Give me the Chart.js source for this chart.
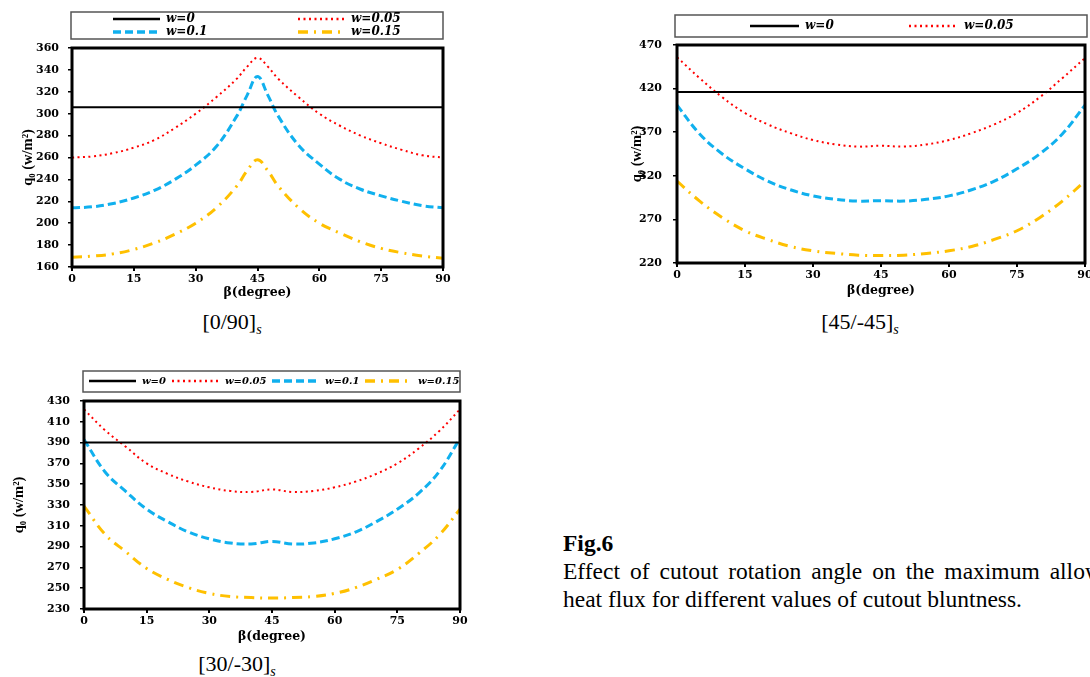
<!DOCTYPE html>
<html>
<head>
<meta charset="utf-8">
<script src="https://cdn.jsdelivr.net/npm/chart.js@4.4.1/dist/chart.umd.min.js"></script>
<style>
  html, body { margin: 0; padding: 0; background: #fff; width: 1090px; height: 677px; overflow: hidden; }
  body { position: relative; }
  canvas.plot { position: absolute; }
  .cap { position: absolute; font-family: 'Liberation Serif', serif; font-size: 22px; line-height: 24px; white-space: nowrap; transform: translateX(-50%); color: #000; }
  .cap sub { font-size: 14px; font-style: italic; vertical-align: -5px; }
  #fig { position: absolute; left: 563px; top: 529px; font-family: 'Liberation Serif', serif; font-size: 23.5px; line-height: 28px; color: #000; white-space: nowrap; }
</style>
</head>
<body>
<canvas id="c090" class="plot" width="460" height="305" style="left:0;top:0"></canvas>
<canvas id="c4545" class="plot" width="500" height="305" style="left:600px;top:0"></canvas>
<canvas id="c3030" class="plot" width="480" height="290" style="left:0;top:360px"></canvas>

<div class="cap" style="left:232px;top:310px">[0/90]<sub>s</sub></div>
<div class="cap" style="left:860px;top:310px">[45/-45]<sub>s</sub></div>
<div class="cap" style="left:237px;top:652px">[30/-30]<sub>s</sub></div>

<div id="fig">
  <div style="font-weight:bold">Fig.6</div>
  <div style="width:578px;text-align:justify;text-align-last:justify;white-space:normal">Effect of cutout rotation angle on the maximum allowable</div>
  <div>heat flux for different values of cutout bluntness.</div>
</div>

<script>
// legend labels (cutout bluntness)
const seriesLabels = ['w=0', 'w=0.05', 'w=0.1', 'w=0.15'];
const xTicksDeg = [0, 15, 30, 45, 60, 75, 90];

// [0/90]s
const betaA = [0, 5, 10, 15, 20, 25, 30, 35, 40, 42.5, 45, 47.5, 50, 55, 60, 65, 70, 75, 80, 85, 90];
const q090_w0   = [306, 306, 306, 306, 306, 306, 306, 306, 306, 306, 306, 306, 306, 306, 306, 306, 306, 306, 306, 306, 306];
const q090_w005 = [260, 261, 264, 269, 276, 287, 300, 315, 332, 343, 351, 343, 332, 315, 300, 289, 280, 273, 267, 262, 260];
const q090_w01  = [214, 215, 218, 223, 230, 240, 253, 270, 298, 317, 334, 317, 298, 271, 254, 240, 231, 225, 220, 216, 214];
const q090_w015 = [169, 170, 172, 176, 182, 190, 200, 214, 234, 248, 258, 248, 234, 214, 200, 191, 183, 177, 173, 170, 168];

// [45/-45]s and [30/-30]s
const betaB = [0, 5, 10, 15, 20, 25, 30, 35, 40, 45, 50, 55, 60, 65, 70, 75, 80, 85, 90];
const q4545_w0   = [416, 416, 416, 416, 416, 416, 416, 416, 416, 416, 416, 416, 416, 416, 416, 416, 416, 416, 416];
const q4545_w005 = [456, 432, 410, 392, 379, 369, 361, 356, 353.5, 354.5, 353.5, 356, 361, 369, 379, 392, 410, 432, 455];
const q4545_w01  = [401, 368, 345, 328, 314, 304, 297, 293, 291, 291.5, 291, 293, 297, 304, 314, 328, 345, 368, 401];
const q4545_w015 = [314, 291, 272, 257, 247, 239, 234, 231, 229, 228.5, 229, 231, 234, 239, 247, 257, 272, 291, 314];

const q3030_w0   = [390, 390, 390, 390, 390, 390, 390, 390, 390, 390, 390, 390, 390, 390, 390, 390, 390, 390, 390];
const q3030_w005 = [422, 402, 386, 370, 360, 352.5, 347, 343.5, 342.5, 345, 342.5, 343.5, 347, 352.5, 360, 370, 384, 401, 422];
const q3030_w01  = [393, 362, 343, 326, 314, 304, 297.5, 293.5, 292.5, 295, 292.5, 293.5, 297.5, 304, 314, 326, 341, 362, 394];
const q3030_w015 = [329, 302, 285, 269, 258.5, 250.5, 245, 242, 241, 240.5, 241, 242, 245, 250.5, 258.5, 268, 283, 301, 326];

const lineStyles = [
    { borderColor: '#000000', borderWidth: 2, borderDash: [] },
    { borderColor: '#FF0000', borderWidth: 2, borderDash: [2, 3.5] },
    { borderColor: '#10B0EE', borderWidth: 3, borderDash: [8, 4] },
    { borderColor: '#FFC000', borderWidth: 3, borderDash: [10, 6, 2, 6] }
];

const serifBold = { family: 'DejaVu Serif', weight: 'bold', size: 11 };

// thick black box round the plot area
const frame = {
    id: 'frame',
    afterDatasetsDraw(chart) {
        const a = chart.chartArea, ctx = chart.ctx;
        ctx.save();
        ctx.strokeStyle = '#000';
        ctx.lineWidth = 3;
        ctx.strokeRect(a.left, a.top, a.right - a.left, a.bottom - a.top);
        ctx.restore();
    }
};

// legend inside a grey box above the plot, styles taken from the datasets
const boxLegend = {
    id: 'boxLegend',
    afterDraw(chart, args, o) {
        const a = chart.chartArea, ctx = chart.ctx;
        ctx.save();
        ctx.strokeStyle = '#555';
        ctx.lineWidth = 1.5;
        ctx.strokeRect(a.left + o.inset[0], o.top, a.right - a.left - o.inset[0] + o.inset[1], o.bottom - o.top);
        ctx.font = 'italic bold ' + o.fontSize + 'px "DejaVu Serif"';
        ctx.textBaseline = 'middle';
        ctx.fillStyle = '#000';
        o.items.forEach(it => {
            const ds = chart.data.datasets[it.ds];
            const x = a.left + it.x, y = o.rows[it.row];
            ctx.save();
            ctx.strokeStyle = ds.borderColor;
            ctx.lineWidth = ds.borderWidth + 0.5;
            ctx.setLineDash(ds.borderDash);
            ctx.beginPath();
            ctx.moveTo(x, y);
            ctx.lineTo(x + o.lineLen, y);
            ctx.stroke();
            ctx.restore();
            ctx.fillText(ds.label, x + o.lineLen + 6, y);
        });
        ctx.restore();
    }
};

function makeChart(id, beta, series, y, geo, legend) {
    const datasets = series.map((vals, i) => Object.assign({
        label: seriesLabels[i],
        data: beta.map((b, k) => ({ x: b, y: vals[k] })),
        pointRadius: 0,
        fill: false,
        tension: 0.4
    }, lineStyles[i]));

    return new Chart(document.getElementById(id), {
        type: 'line',
        data: { datasets: datasets },
        options: {
            responsive: false,
            animation: false,
            devicePixelRatio: 1,
            layout: { padding: { top: geo.top, right: geo.right, bottom: geo.bottom, left: 0 } },
            plugins: {
                legend: { display: false },
                tooltip: { enabled: false },
                boxLegend: legend
            },
            scales: {
                x: {
                    type: 'linear',
                    min: 0,
                    max: 90,
                    afterFit: s => { s.height = geo.xH; },
                    afterBuildTicks: s => { s.ticks = xTicksDeg.map(v => ({ value: v })); },
                    border: { display: false },
                    grid: { drawOnChartArea: false, drawTicks: true, tickLength: 4, color: '#000', lineWidth: 2 },
                    ticks: { color: '#000', font: serifBold, padding: 2, maxRotation: 0 },
                    title: { display: true, text: 'β(degree)', color: '#000', font: { family: 'DejaVu Serif', weight: 'bold', size: 12.5 }, padding: { top: 0, bottom: 0 } }
                },
                y: {
                    min: y.min,
                    max: y.max,
                    afterFit: s => { s.width = geo.yW; },
                    border: { display: false },
                    grid: { drawOnChartArea: false, drawTicks: true, tickLength: 4, color: '#000', lineWidth: 1.5 },
                    ticks: { stepSize: y.step, color: '#000', font: serifBold, padding: geo.yTickPad },
                    title: { display: true, text: 'q₀ (w/m²)', color: '#000', font: { family: 'Liberation Serif', weight: 'bold', size: 14.5 }, padding: { top: geo.yTitlePad, bottom: 0 } }
                }
            }
        },
        plugins: [frame, boxLegend]
    });
}

makeChart('c090', betaA, [q090_w0, q090_w005, q090_w01, q090_w015],
    { min: 160, max: 360, step: 20 },
    { top: 48, right: 17, bottom: 5, xH: 33, yW: 72, yTickPad: 9, yTitlePad: 20 },
    { top: 12, bottom: 39, inset: [-1, 0], rows: [19, 32], lineLen: 47, fontSize: 12,
      items: [{ ds: 0, x: 41, row: 0 }, { ds: 1, x: 226, row: 0 }, { ds: 2, x: 41, row: 1 }, { ds: 3, x: 226, row: 1 }] });

makeChart('c4545', betaB, [q4545_w0, q4545_w005, q4545_w01, q4545_w015],
    { min: 220, max: 470, step: 50 },
    { top: 45, right: 15, bottom: 7, xH: 35, yW: 77, yTickPad: 11, yTitlePad: 29 },
    { top: 15, bottom: 37, inset: [-2, 2], rows: [26], lineLen: 49, fontSize: 12,
      items: [{ ds: 0, x: 73, row: 0 }, { ds: 1, x: 232, row: 0 }] });

makeChart('c3030', betaB, [q3030_w0, q3030_w005, q3030_w01, q3030_w015],
    { min: 230, max: 430, step: 20 },
    { top: 41, right: 20, bottom: 6, xH: 35, yW: 84, yTickPad: 10, yTitlePad: 11 },
    { top: 11, bottom: 32, inset: [-1, 0], rows: [21], lineLen: 47, fontSize: 10,
      items: [{ ds: 0, x: 5, row: 0 }, { ds: 1, x: 88, row: 0 }, { ds: 2, x: 188, row: 0 }, { ds: 3, x: 281, row: 0 }] });
</script>
</body>
</html>
